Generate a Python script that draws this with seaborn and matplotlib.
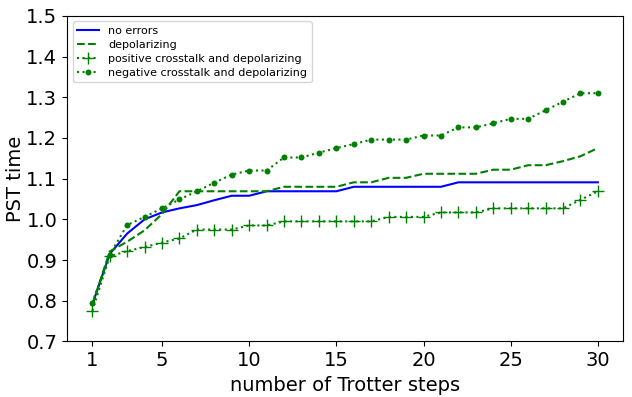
import numpy as np
import seaborn as sns
import matplotlib
matplotlib.use("Agg")
import matplotlib.pyplot as plt

steps = list(range(1, 31))

no_errors = [0.79, 0.915, 0.965, 1.0, 1.017, 1.027, 1.035, 1.047, 1.058, 1.058,
             1.069, 1.069, 1.069, 1.069, 1.069, 1.08, 1.08, 1.08, 1.08, 1.08,
             1.08, 1.091, 1.091, 1.091, 1.091, 1.091, 1.091, 1.091, 1.091, 1.091]

depolarizing = [0.79, 0.921, 0.945, 0.973, 1.013, 1.069, 1.069, 1.069, 1.069, 1.069,
                1.069, 1.08, 1.08, 1.08, 1.08, 1.091, 1.091, 1.102, 1.102, 1.112,
                1.112, 1.112, 1.112, 1.122, 1.122, 1.133, 1.133, 1.143, 1.155, 1.175]

pos_crosstalk = [0.775, 0.909, 0.922, 0.932, 0.943, 0.953, 0.975, 0.975, 0.975, 0.985,
                 0.985, 0.995, 0.995, 0.995, 0.995, 0.995, 0.995, 1.006, 1.006, 1.006,
                 1.017, 1.017, 1.017, 1.027, 1.027, 1.027, 1.027, 1.027, 1.048, 1.069]

neg_crosstalk = [0.795, 0.913, 0.986, 1.006, 1.027, 1.049, 1.069, 1.09, 1.11, 1.12,
                 1.12, 1.152, 1.152, 1.164, 1.175, 1.185, 1.196, 1.196, 1.196, 1.206,
                 1.206, 1.226, 1.226, 1.236, 1.247, 1.247, 1.268, 1.289, 1.31, 1.31]

xtick_vals = [1, 5, 10, 15, 20, 25, 30]
ytick_vals = [0.7, 0.8, 0.9, 1.0, 1.1, 1.2, 1.3, 1.4, 1.5]

fig, ax = plt.subplots(figsize=(6.32, 3.97), dpi=100)

sns.lineplot(x=steps, y=no_errors, color='blue', linewidth=1.5,
             label='no errors', ax=ax)
sns.lineplot(x=steps, y=depolarizing, color='green', linestyle='--', linewidth=1.5,
             label='depolarizing', ax=ax)
sns.lineplot(x=steps, y=pos_crosstalk, color='green', linestyle=':', linewidth=1.5,
             marker='+', markersize=8, markeredgewidth=1.0, markeredgecolor='green',
             label='positive crosstalk and depolarizing', ax=ax)
sns.lineplot(x=steps, y=neg_crosstalk, color='green', linestyle=':', linewidth=1.5,
             marker='o', markersize=4.3, markeredgewidth=0, markerfacecolor='green',
             label='negative crosstalk and depolarizing', ax=ax)

ax.set_ylim(0.7, 1.5)
ax.set_yticks(ytick_vals)
ax.set_xticks(xtick_vals)
ax.tick_params(labelsize=14)
ax.set_xlabel('number of Trotter steps', fontsize=14)
ax.set_ylabel('PST time', fontsize=14, labelpad=1)
ax.legend(loc='upper left', fontsize=8, labelspacing=0.35)

plt.subplots_adjust(left=0.106, right=0.986, top=0.96, bottom=0.14)
plt.savefig('out.png', dpi=100)
